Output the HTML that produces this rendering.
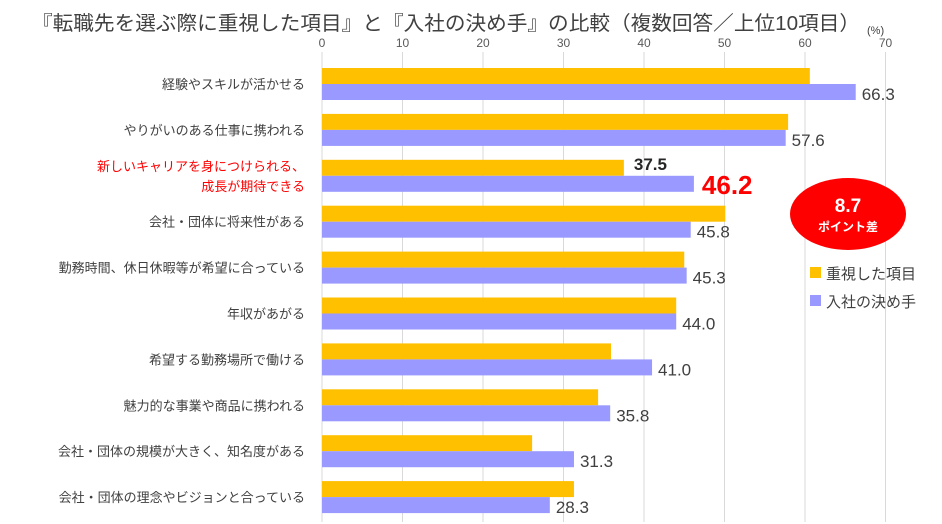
<!DOCTYPE html>
<html><head><meta charset="utf-8"><style>
body{margin:0;background:#fff;}
svg{display:block;font-family:"Liberation Sans","Noto Sans CJK JP",sans-serif;}
</style></head><body>
<svg id="c" width="942" height="524" viewBox="0 0 942 524">
<text x="32" y="30" font-size="20" fill="#404040" textLength="828" lengthAdjust="spacingAndGlyphs">『転職先を選ぶ際に重視した項目』と『入社の決め手』の比較（複数回答／上位10項目）</text>
<text x="867" y="34" font-size="11" fill="#404040">(%)</text>
<g id="grid"></g><g id="bars"></g><g id="labels"></g>
<ellipse cx="848" cy="214" rx="58" ry="36" fill="#ff0000"/>
<text x="848" y="212" font-size="19" font-weight="bold" fill="#fff" text-anchor="middle">8.7</text>
<text x="848" y="231" font-size="12" font-weight="bold" fill="#fff" text-anchor="middle">ポイント差</text>
<rect x="810" y="267" width="11" height="11" fill="#ffc000"/>
<text x="826" y="279" font-size="15" fill="#404040">重視した項目</text>
<rect x="810" y="295" width="11" height="11" fill="#9999ff"/>
<text x="826" y="307" font-size="15" fill="#404040">入社の決め手</text>
</svg>
<script>
const categories=["経験やスキルが活かせる","やりがいのある仕事に携われる","新しいキャリアを身につけられる、|成長が期待できる","会社・団体に将来性がある","勤務時間、休日休暇等が希望に合っている","年収があがる","希望する勤務場所で働ける","魅力的な事業や商品に携われる","会社・団体の規模が大きく、知名度がある","会社・団体の理念やビジョンと合っている"];
const important=[60.6,57.9,37.5,50.1,45.0,44.0,35.9,34.3,26.1,31.3];
const decisive=[66.3,57.6,46.2,45.8,45.3,44.0,41.0,35.8,31.3,28.3];
const ticks=[0,10,20,30,40,50,60,70];
const NS="http://www.w3.org/2000/svg";
const x=v=>322+v*8.05;
const yTop=i=>68+i*45.9;
function mk(p,t,a,txt){const e=document.createElementNS(NS,t);for(const k in a)e.setAttribute(k,a[k]);if(txt!=null)e.textContent=txt;document.getElementById(p).appendChild(e);return e;}
ticks.forEach(t=>{
 let l=mk('grid','line',{x1:x(t),x2:x(t),y1:52,y2:522,stroke:'#d9d9d9','stroke-width':1});
 
 
 let tx=mk('grid','text',{x:x(t),y:47,'font-size':12,fill:'#595959','text-anchor':'middle'},t);
 
 
});
categories.forEach((c,i)=>{
 const y=yTop(i);
 let b1=mk('bars','rect',{x:x(0),y:y,width:x(important[i])-x(0),height:16,fill:'#ffc000'});
 
 
 let b2=mk('bars','rect',{x:x(0),y:y+16,width:x(decisive[i])-x(0),height:16,fill:'#9999ff'});
 
 
 const parts=c.split('|');const red=parts.length>1;
 parts.forEach((p,k)=>{
  let t=mk('labels','text',{x:305,y:y+21+(k-(parts.length-1)/2)*20,'font-size':13,fill:red?'#ff0000':'#404040','text-anchor':'end'},p);
  
  
 });
 if(i===2){
  let a=mk('labels','text',{x:x(important[i])+10,y:y+10,'font-size':17,'font-weight':'bold',fill:'#262626'},important[i].toFixed(1));
  
  
  let d=mk('labels','text',{x:x(decisive[i])+8,y:y+34,'font-size':26,'font-weight':'bold',fill:'#ff0000'},decisive[i].toFixed(1));
  
  
 }else{
  let d=mk('labels','text',{x:x(decisive[i])+6,y:y+32,'font-size':17,fill:'#404040'},decisive[i].toFixed(1));
  
  
 }
});
</script>
</body></html>
